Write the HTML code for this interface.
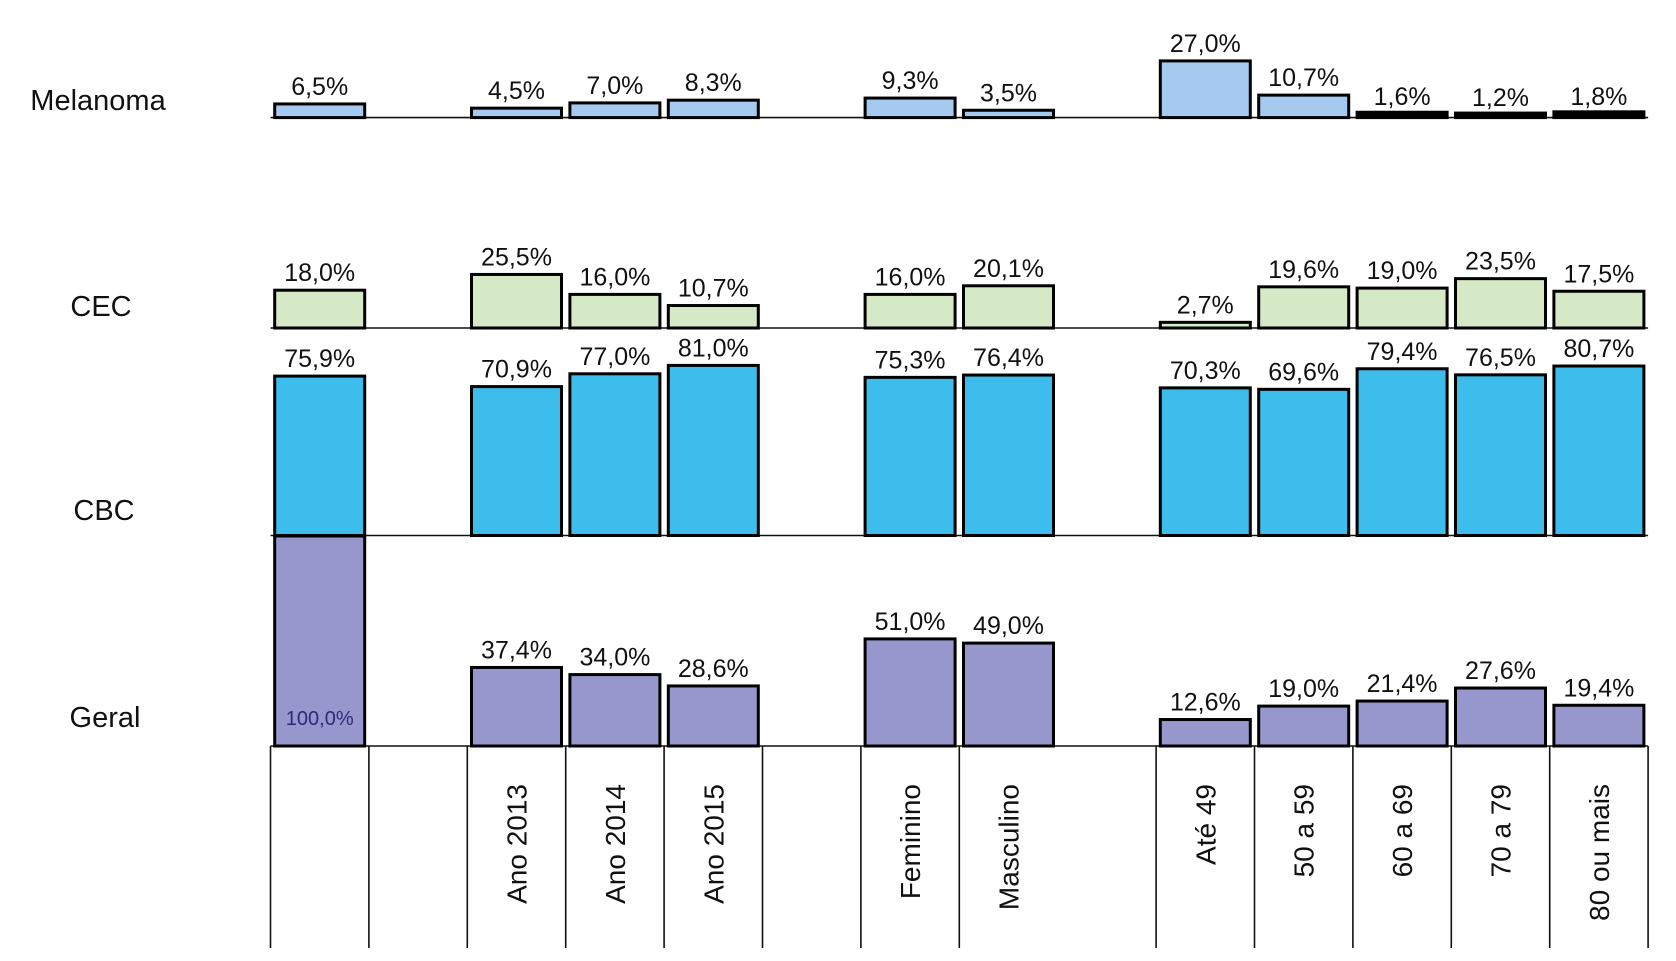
<!DOCTYPE html>
<html><head><meta charset="utf-8"><style>
html,body{margin:0;padding:0;background:#fff;}
svg{display:block;}
text{font-family:"Liberation Sans",Arial,sans-serif;}
</style></head><body>
<svg id="chart" width="1676" height="961" viewBox="0 0 1676 961" xmlns="http://www.w3.org/2000/svg"></svg>
<script>
// Data
const categories = ["", "", "Ano 2013", "Ano 2014", "Ano 2015", "", "Feminino", "Masculino", "", "Até 49", "50 a 59", "60 a 69", "70 a 79", "80 ou mais"];
const barCols = [0, 2, 3, 4, 6, 7, 9, 10, 11, 12, 13];
const panelNames = ["Melanoma", "CEC", "CBC", "Geral"];
const melanomaValues = [6.5, 4.5, 7.0, 8.3, 9.3, 3.5, 27.0, 10.7, 1.6, 1.2, 1.8];
const cecValues = [18.0, 25.5, 16.0, 10.7, 16.0, 20.1, 2.7, 19.6, 19.0, 23.5, 17.5];
const cbcValues = [75.9, 70.9, 77.0, 81.0, 75.3, 76.4, 70.3, 69.6, 79.4, 76.5, 80.7];
const geralValues = [100.0, 37.4, 34.0, 28.6, 51.0, 49.0, 12.6, 19.0, 21.4, 27.6, 19.4];
const dividerCols = [0, 1, 2, 3, 4, 5, 6, 7, 9, 10, 11, 12, 13, 14];

const svg = document.getElementById('chart');
const NS = 'http://www.w3.org/2000/svg';
const x0 = 270.5, colW = 98.4, barW = 90, pxPer = 2.1;
const baselines = [117.6, 328, 535.5, 746];
const colors = ["#a5c9ef", "#d6e9c6", "#3cbdec", "#9796cd"];
const labelPos = [[98, 110], [101, 316], [104, 520], [105, 727]];
const allValues = [melanomaValues, cecValues, cbcValues, geralValues];
const xCol = c => x0 + c * colW;
const yVal = (p, v) => baselines[p] - v * pxPer;
function fmt(v) { return v.toFixed(1).replace('.', ',') + '%'; }
function mk(tag, attrs) { const e = document.createElementNS(NS, tag); for (const k in attrs) e.setAttribute(k, attrs[k]); svg.appendChild(e); return e; }

for (let p = 0; p < 4; p++) {
  const lab = mk('text', {x: labelPos[p][0], y: labelPos[p][1], 'text-anchor': 'middle', 'font-size': 29, fill: '#111'});
  
  
  lab.textContent = panelNames[p];
  const bl = mk('line', {x1: xCol(0), x2: xCol(14), y1: baselines[p], y2: baselines[p], stroke: '#111', 'stroke-width': 1.6});
  
  
  const vals = allValues[p];
  for (let i = 0; i < barCols.length; i++) {
    const v = vals[i];
    const bx = xCol(barCols[i]) + (colW - barW) / 2;
    const top = yVal(p, v);
    const h = baselines[p] - top;
    const small = p === 0 && v < 2;
    const r = mk('rect', {x: bx, y: top - (small ? 2 : 0), width: barW, height: Math.max(h, 0) + (small ? 2 : 0), fill: small ? '#000' : colors[p], stroke: '#000', 'stroke-width': 3});
    
    
    let t;
    if (p === 3 && v >= 100) {
      t = mk('text', {x: bx + barW / 2, y: baselines[p] - 21, 'text-anchor': 'middle', 'font-size': 20, fill: '#2b2a7a'});
    } else {
      t = mk('text', {x: bx + barW / 2, y: top - 9, 'text-anchor': 'middle', 'font-size': 25, fill: '#111'});
    }
    
    
    t.textContent = fmt(v);
  }
}
for (const c of dividerCols) {
  const l = mk('line', {x1: xCol(c), x2: xCol(c), y1: baselines[3], y2: 948, stroke: '#111', 'stroke-width': 1.6});
  
  
}
for (let c = 0; c < categories.length; c++) {
  if (!categories[c]) continue;
  const cx = xCol(c) + colW / 2 + 10, cy = 784;
  const t = mk('text', {x: cx, y: cy, 'text-anchor': 'end', 'font-size': 28, fill: '#111', transform: `rotate(-90 ${cx} ${cy})`});
  
  
  t.textContent = categories[c];
}
</script>
</body></html>
